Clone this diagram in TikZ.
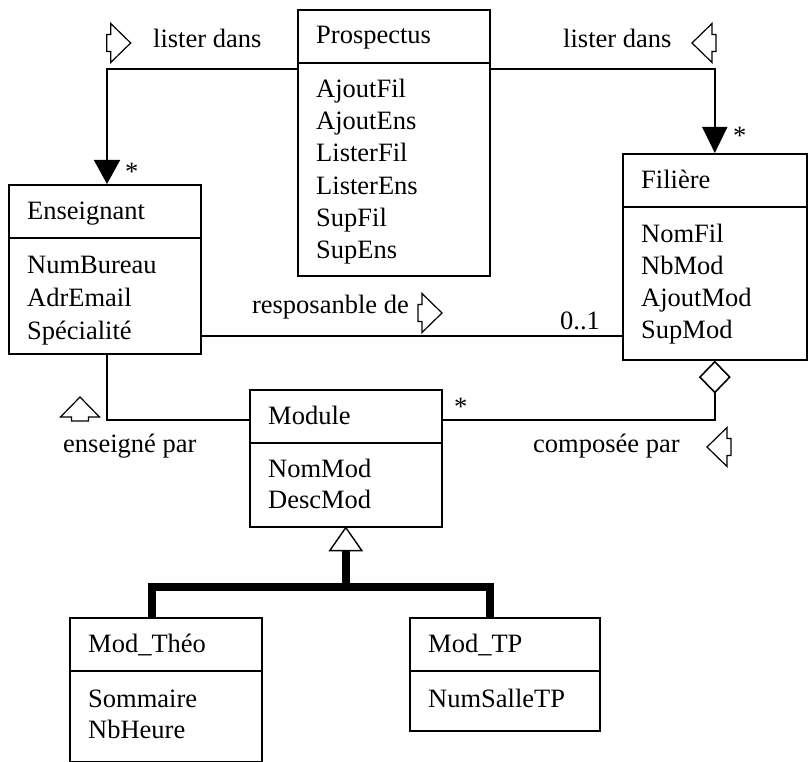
\documentclass[tikz,border=0pt]{standalone}
\usepackage{fontspec}
\setmainfont{Liberation Serif}
\usetikzlibrary{arrows.meta,calc}
\newcommand\umlfont{\fontsize{26.5}{32}\selectfont}
\begin{document}
\begin{tikzpicture}[x=1pt,y=-1pt,
  box/.style={draw, line width=1.6pt, anchor=north west, minimum width=192pt, inner sep=0pt},
  txt/.style={anchor=base west, inner sep=0pt, font=\umlfont},
  conn/.style={line width=1.6pt},
  inh/.style={line width=8pt, line join=miter},
  dirarrow/.pic={\draw[line width=1.2pt, fill=white, line join=miter]
     (-8,-19.5) -- (12,0) -- (-8,19.5) -- (-8,8.5) -- (-12,8.5) -- (-12,-8.5) -- (-8,-8.5) -- cycle;}
]
\useasboundingbox[fill=white] (0,0) rectangle (808,762);

% ---- classes ----
\node[box, minimum height=266pt] (pros) at (297,9) {};
\node[box, minimum height=169pt] (ens) at (8,184) {};
\node[box, minimum width=184pt, minimum height=206pt] (fil) at (622,153) {};
\node[box, minimum height=137pt] (mod) at (249,389) {};
\node[box, minimum height=144pt] (theo) at (69,617) {};
\node[box, minimum width=190pt, minimum height=113pt] (tp) at (409,617) {};

% compartment dividers
\foreach \c in {pros,ens,fil,mod,theo,tp}
  \draw[line width=1.6pt] ($(\c.north west)+(0,54)$) -- ($(\c.north east)+(0,54)$);

% class names
\node[txt] (prosT) at ($(pros.north west)+(19,35)$) {Prospectus};
\node[txt] (ensT)  at ($(ens.north west)+(19,35)$) {Enseignant};
\node[txt] (filT)  at ($(fil.north west)+(19,36)$) {Filière};
\node[txt] (modT)  at ($(mod.north west)+(19,35)$) {Module};
\node[txt] (theoT) at ($(theo.north west)+(19,35)$) {Mod\_Théo};
\node[txt] (tpT)   at ($(tp.north west)+(19,35)$) {Mod\_TP};

% attributes / operations
\foreach \t [count=\i from 0] in {AjoutFil,AjoutEns,ListerFil,ListerEns,SupFil,SupEns}
  \node[txt] (prosA\i) at ($(pros.north west)+(19,89+32*\i)$) {\t};
\foreach \t [count=\i from 0] in {NumBureau,AdrEmail,Spécialité}
  \node[txt] (ensA\i) at ($(ens.north west)+(19,89+33*\i)$) {\t};
\foreach \t [count=\i from 0] in {NomFil,NbMod,AjoutMod,SupMod}
  \node[txt] (filA\i) at ($(fil.north west)+(19,89+32*\i)$) {\t};
\foreach \t [count=\i from 0] in {NomMod,DescMod}
  \node[txt] (modA\i) at ($(mod.north west)+(19,88+31*\i)$) {\t};
\foreach \t [count=\i from 0] in {Sommaire,NbHeure}
  \node[txt] (theoA\i) at ($(theo.north west)+(19,90+31*\i)$) {\t};
\node[txt] (tpA0) at ($(tp.north west)+(19,90)$) {NumSalleTP};

% ---- associations ----
% Prospectus lists teachers and programmes
\draw[conn, -{Triangle[length=24pt,width=26pt]}]
  ($(pros.north west)+(0,60)$) -| ($(ens.north west)+(99,0)$);
\draw[conn, -{Triangle[length=26pt,width=25pt]}]
  ($(pros.north east)+(0,60)$) -| (fil.north);
\node[txt] (l1) at (153,48) {lister dans};
\node[txt] (l2) at (563,48) {lister dans};
\node[txt] (m1) at (125,181) {*};
\node[txt] (m2) at (733,145) {*};
\pic at (118.7,43) {dirarrow};
\pic[rotate=180] at (704,43) {dirarrow};

% responsible for a programme
\draw[conn] (ens.east |- 0,336) -- (fil.west |- 0,336);
\node[txt, anchor=base east] (l3) at (409,313) {resposanble de};
\node[txt] (m3) at (560,329) {0..1};
\pic at (430,313) {dirarrow};

% taught by
\draw[conn] ($(ens.south west)+(99,0)$) |- ($(mod.north west)+(0,31)$);
\node[txt] (l4) at (63,452) {enseigné par};
\pic[rotate=90] at (80,409) {dirarrow};

% programme composed of modules
\draw[conn, {Diamond[open,length=33pt,width=32pt]}-] (fil.south) |- ($(mod.north east)+(0,31)$);
\node[txt] (l5) at (533,452) {composée par};
\node[txt] (m5) at (454,415) {*};
\pic[rotate=180] at (719,447) {dirarrow};

% ---- generalisation ----
\draw[line width=1.4pt, fill=white] (mod.south) -- ++(-16,23) -- ++(32,0) -- cycle;
\draw[inh] ($(mod.south)+(0,23)$) -- ($(mod.south)+(0,62)$);
\draw[inh] ($(theo.north west)+(83,0)$) |- ($(tp.north west)+(81,-30)$) -- ($(tp.north west)+(81,0)$);
\end{tikzpicture}
\end{document}
